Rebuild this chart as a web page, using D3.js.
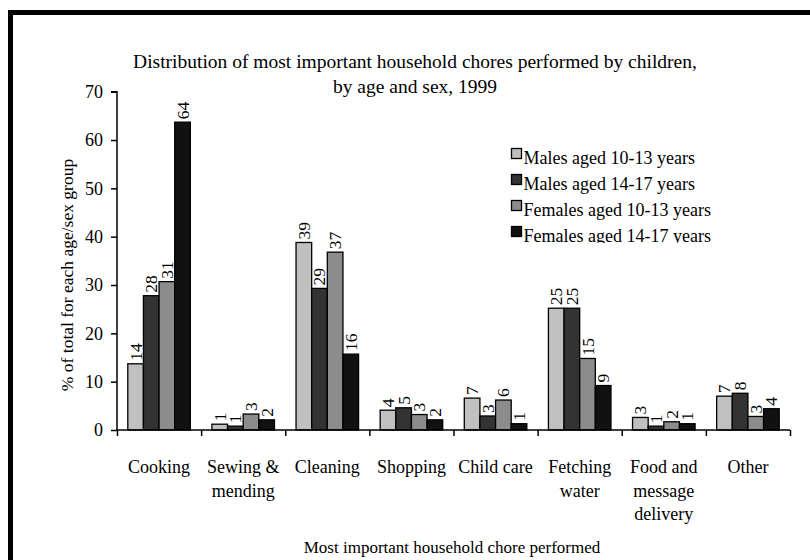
<!DOCTYPE html>
<html>
<head>
<meta charset="utf-8">
<script src="https://cdn.jsdelivr.net/npm/d3@7"></script>
<style>
  html, body { margin: 0; padding: 0; background: #fff; }
  svg { display: block; font-family: "Liberation Serif", "Times New Roman", serif; }
</style>
</head>
<body>
<svg id="chart" width="810" height="560"></svg>
<script>
// ---- data ----
const categories = ["Cooking", "Sewing & mending", "Cleaning", "Shopping", "Child care", "Fetching water", "Food and message delivery", "Other"];
const categoryLines = [["Cooking"], ["Sewing &", "mending"], ["Cleaning"], ["Shopping"], ["Child care"], ["Fetching", "water"], ["Food and", "message", "delivery"], ["Other"]];
const seriesNames = ["Males aged 10-13 years", "Males aged 14-17 years", "Females aged 10-13 years", "Females aged 14-17 years"];
const males1013   = [13.7, 1.2, 38.8, 4.1, 6.6, 25.2, 2.6, 7.0];
const males1417   = [27.8, 0.8, 29.3, 4.6, 2.9, 25.2, 0.8, 7.6];
const females1013 = [30.7, 3.3, 36.8, 3.2, 6.2, 14.8, 1.7, 2.8];
const females1417 = [63.7, 2.1, 15.7, 2.1, 1.3, 9.2, 1.3, 4.4];
const seriesColors = ["#c0c0c0", "#333333", "#8c8c8c", "#111111"];
const yTicks = [0, 10, 20, 30, 40, 50, 60, 70];
const titleLines = ["Distribution of most important household chores performed by children,", "by age and sex, 1999"];
const yTitle = "% of total for each age/sex group";
const xTitle = "Most important household chore performed";

const seriesValues = [males1013, males1417, females1013, females1417];

const svg = d3.select("#chart");

// frame
svg.append("path")
  .attr("d", "M10.5,560 L10.5,12.5 L812,12.5")
  .attr("fill", "none").attr("stroke", "#000").attr("stroke-width", 5);

const plotLeft = 117, plotRight = 790, plotTop = 91.7, plotBottom = 430;

const x = d3.scaleBand().domain(categories).range([plotLeft, plotRight]).paddingInner(0).paddingOuter(0);
const x1 = d3.scaleBand().domain(seriesNames).range([0, x.bandwidth()]).paddingInner(0).paddingOuter(0.69);
const y = d3.scaleLinear().domain([0, 70]).range([plotBottom, plotTop]);

// title
svg.append("g").selectAll("text").data(titleLines).join("text")
  .attr("x", 415).attr("y", (d, i) => 68 + i * 25)
  .attr("text-anchor", "middle").attr("font-size", 19.5).attr("fill", "#000")
  .text(d => d);

// bars
const groups = svg.append("g").selectAll("g").data(categories).join("g")
  .attr("transform", d => `translate(${x(d)},0)`);

groups.selectAll("rect").data((c, ci) => seriesNames.map((s, si) => ({s, si, v: seriesValues[si][ci]})))
  .join("rect")
  .attr("x", d => x1(d.s)).attr("width", x1.bandwidth())
  .attr("y", d => y(d.v)).attr("height", d => y(0) - y(d.v))
  .attr("fill", d => seriesColors[d.si]).attr("stroke", "#000").attr("stroke-width", 1.3);

groups.selectAll("text").data((c, ci) => seriesNames.map((s, si) => ({s, si, v: seriesValues[si][ci]})))
  .join("text")
  .attr("transform", d => `translate(${x1(d.s) + x1.bandwidth() / 2 + 6},${y(d.v) - 3}) rotate(-90)`)
  .attr("font-size", 17.5).attr("fill", "#000")
  .text(d => Math.round(d.v));

// y axis
const yAxis = svg.append("g").attr("transform", `translate(${plotLeft},0)`)
  .call(d3.axisLeft(y).tickValues(yTicks).tickSize(6).tickPadding(8).tickFormat(d3.format("d")));
yAxis.select(".domain").attr("stroke", "#000").attr("stroke-width", 1.5).attr("d", `M-6,${plotTop}H0V${plotBottom}`);
yAxis.selectAll(".tick line").attr("stroke", "#000").attr("stroke-width", 1.5);
yAxis.selectAll(".tick text").attr("font-size", 18).attr("font-family", "Liberation Serif").attr("fill", "#000");

// x axis (ticks at category boundaries)
const xb = d3.scaleLinear().domain([0, categories.length]).range([plotLeft, plotRight]);
const xAxis = svg.append("g").attr("transform", `translate(0,${plotBottom})`)
  .call(d3.axisBottom(xb).tickValues(d3.range(categories.length + 1)).tickSize(6).tickFormat(""));
xAxis.select(".domain").attr("stroke", "#000").attr("stroke-width", 1.5).attr("d", `M${plotLeft},0H${plotRight}`);
xAxis.selectAll(".tick line").attr("stroke", "#000").attr("stroke-width", 1.5);

// category labels
svg.append("g").selectAll("text").data(categories).join("text")
  .attr("x", d => x(d) + x.bandwidth() / 2)
  .attr("y", 473)
  .attr("text-anchor", "middle").attr("font-size", 18).attr("fill", "#000")
  .each(function(d, i) {
    d3.select(this).selectAll("tspan").data(categoryLines[i]).join("tspan")
      .attr("x", x(d) + x.bandwidth() / 2)
      .attr("dy", (t, j) => j === 0 ? 0 : 23.5)
      .text(t => t);
  });

// x title
svg.append("text").attr("x", 452).attr("y", 553).attr("text-anchor", "middle")
  .attr("font-size", 17).attr("fill", "#000").text(xTitle);

// y title
svg.append("text").attr("transform", `translate(73,275) rotate(-90)`)
  .attr("text-anchor", "middle").attr("font-size", 17.5).attr("fill", "#000").text(yTitle);

// legend (clipped at bottom as in original)
svg.append("clipPath").attr("id", "legclip").append("rect")
  .attr("x", 500).attr("y", 130).attr("width", 300).attr("height", 113);
const legend = svg.append("g").attr("clip-path", "url(#legclip)");
const leg = legend.selectAll("g").data(seriesNames).join("g")
  .attr("transform", (d, i) => `translate(511,${164 + i * 26})`);
leg.append("rect").attr("x", 0.5).attr("y", -15.5).attr("width", 10).attr("height", 10)
  .attr("fill", (d, i) => seriesColors[i]).attr("stroke", "#000").attr("stroke-width", 1.3);
leg.append("text").attr("x", 12.5).attr("y", 0).attr("font-size", 18).attr("fill", "#000").text(d => d);
</script>
</body>
</html>
